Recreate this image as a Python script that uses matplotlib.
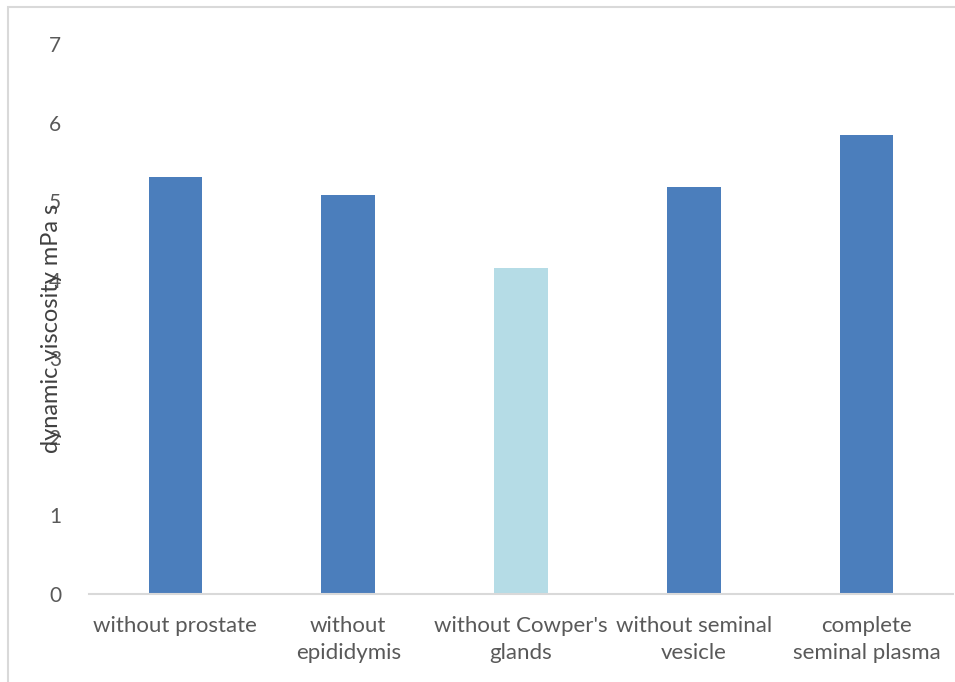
import matplotlib
matplotlib.use("Agg")
import matplotlib.pyplot as plt
from matplotlib.patches import Rectangle

## data
categories = ["without prostate", "without\nepididymis", "without Cowper's\nglands",
              "without seminal\nvesicle", "complete\nseminal plasma"]
viscosity = [5.31, 5.08, 4.15, 5.18, 5.84]
bar_colors = ["#4b7ebc", "#4b7ebc", "#b5dce6", "#4b7ebc", "#4b7ebc"]
yticks = [0, 1, 2, 3, 4, 5, 6, 7]

plt.rcParams['font.family'] = ['Lato', 'DejaVu Sans']

fig = plt.figure(figsize=(9.55, 6.82), dpi=100)
ax = fig.add_axes([89/955, 1 - 594/682, 864/955, 550/682])

x = range(len(categories))
ax.bar(x, viscosity, width=0.31, color=bar_colors)

ax.set_xlim(-0.5, len(categories) - 0.5)
ax.set_ylim(0, 7)
ax.set_yticks(yticks)
ax.set_xticks(list(x))
ax.set_xticklabels(categories, fontsize=16, color="#595959", linespacing=1.4)
ax.tick_params(axis='y', length=0, pad=20, labelsize=15, labelcolor="#595959")
ax.tick_params(axis='x', length=0, pad=16)

for s in ['top', 'right', 'left']:
    ax.spines[s].set_visible(False)
ax.spines['bottom'].set_color("#d9d9d9")
ax.spines['bottom'].set_linewidth(1.5)

fig.text(52/955, 1 - 328/682, "dynamic viscosity mPa s", rotation=90,
         fontsize=17, color="#404040", ha='center', va='center')

# chart border
fig.patches.append(Rectangle((8/955, -0.1), 1.2, 1 - 7/682 + 0.1, transform=fig.transFigure,
                             fill=False, edgecolor="#d9d9d9", linewidth=1.5))

fig.savefig("out.png", dpi=100)
